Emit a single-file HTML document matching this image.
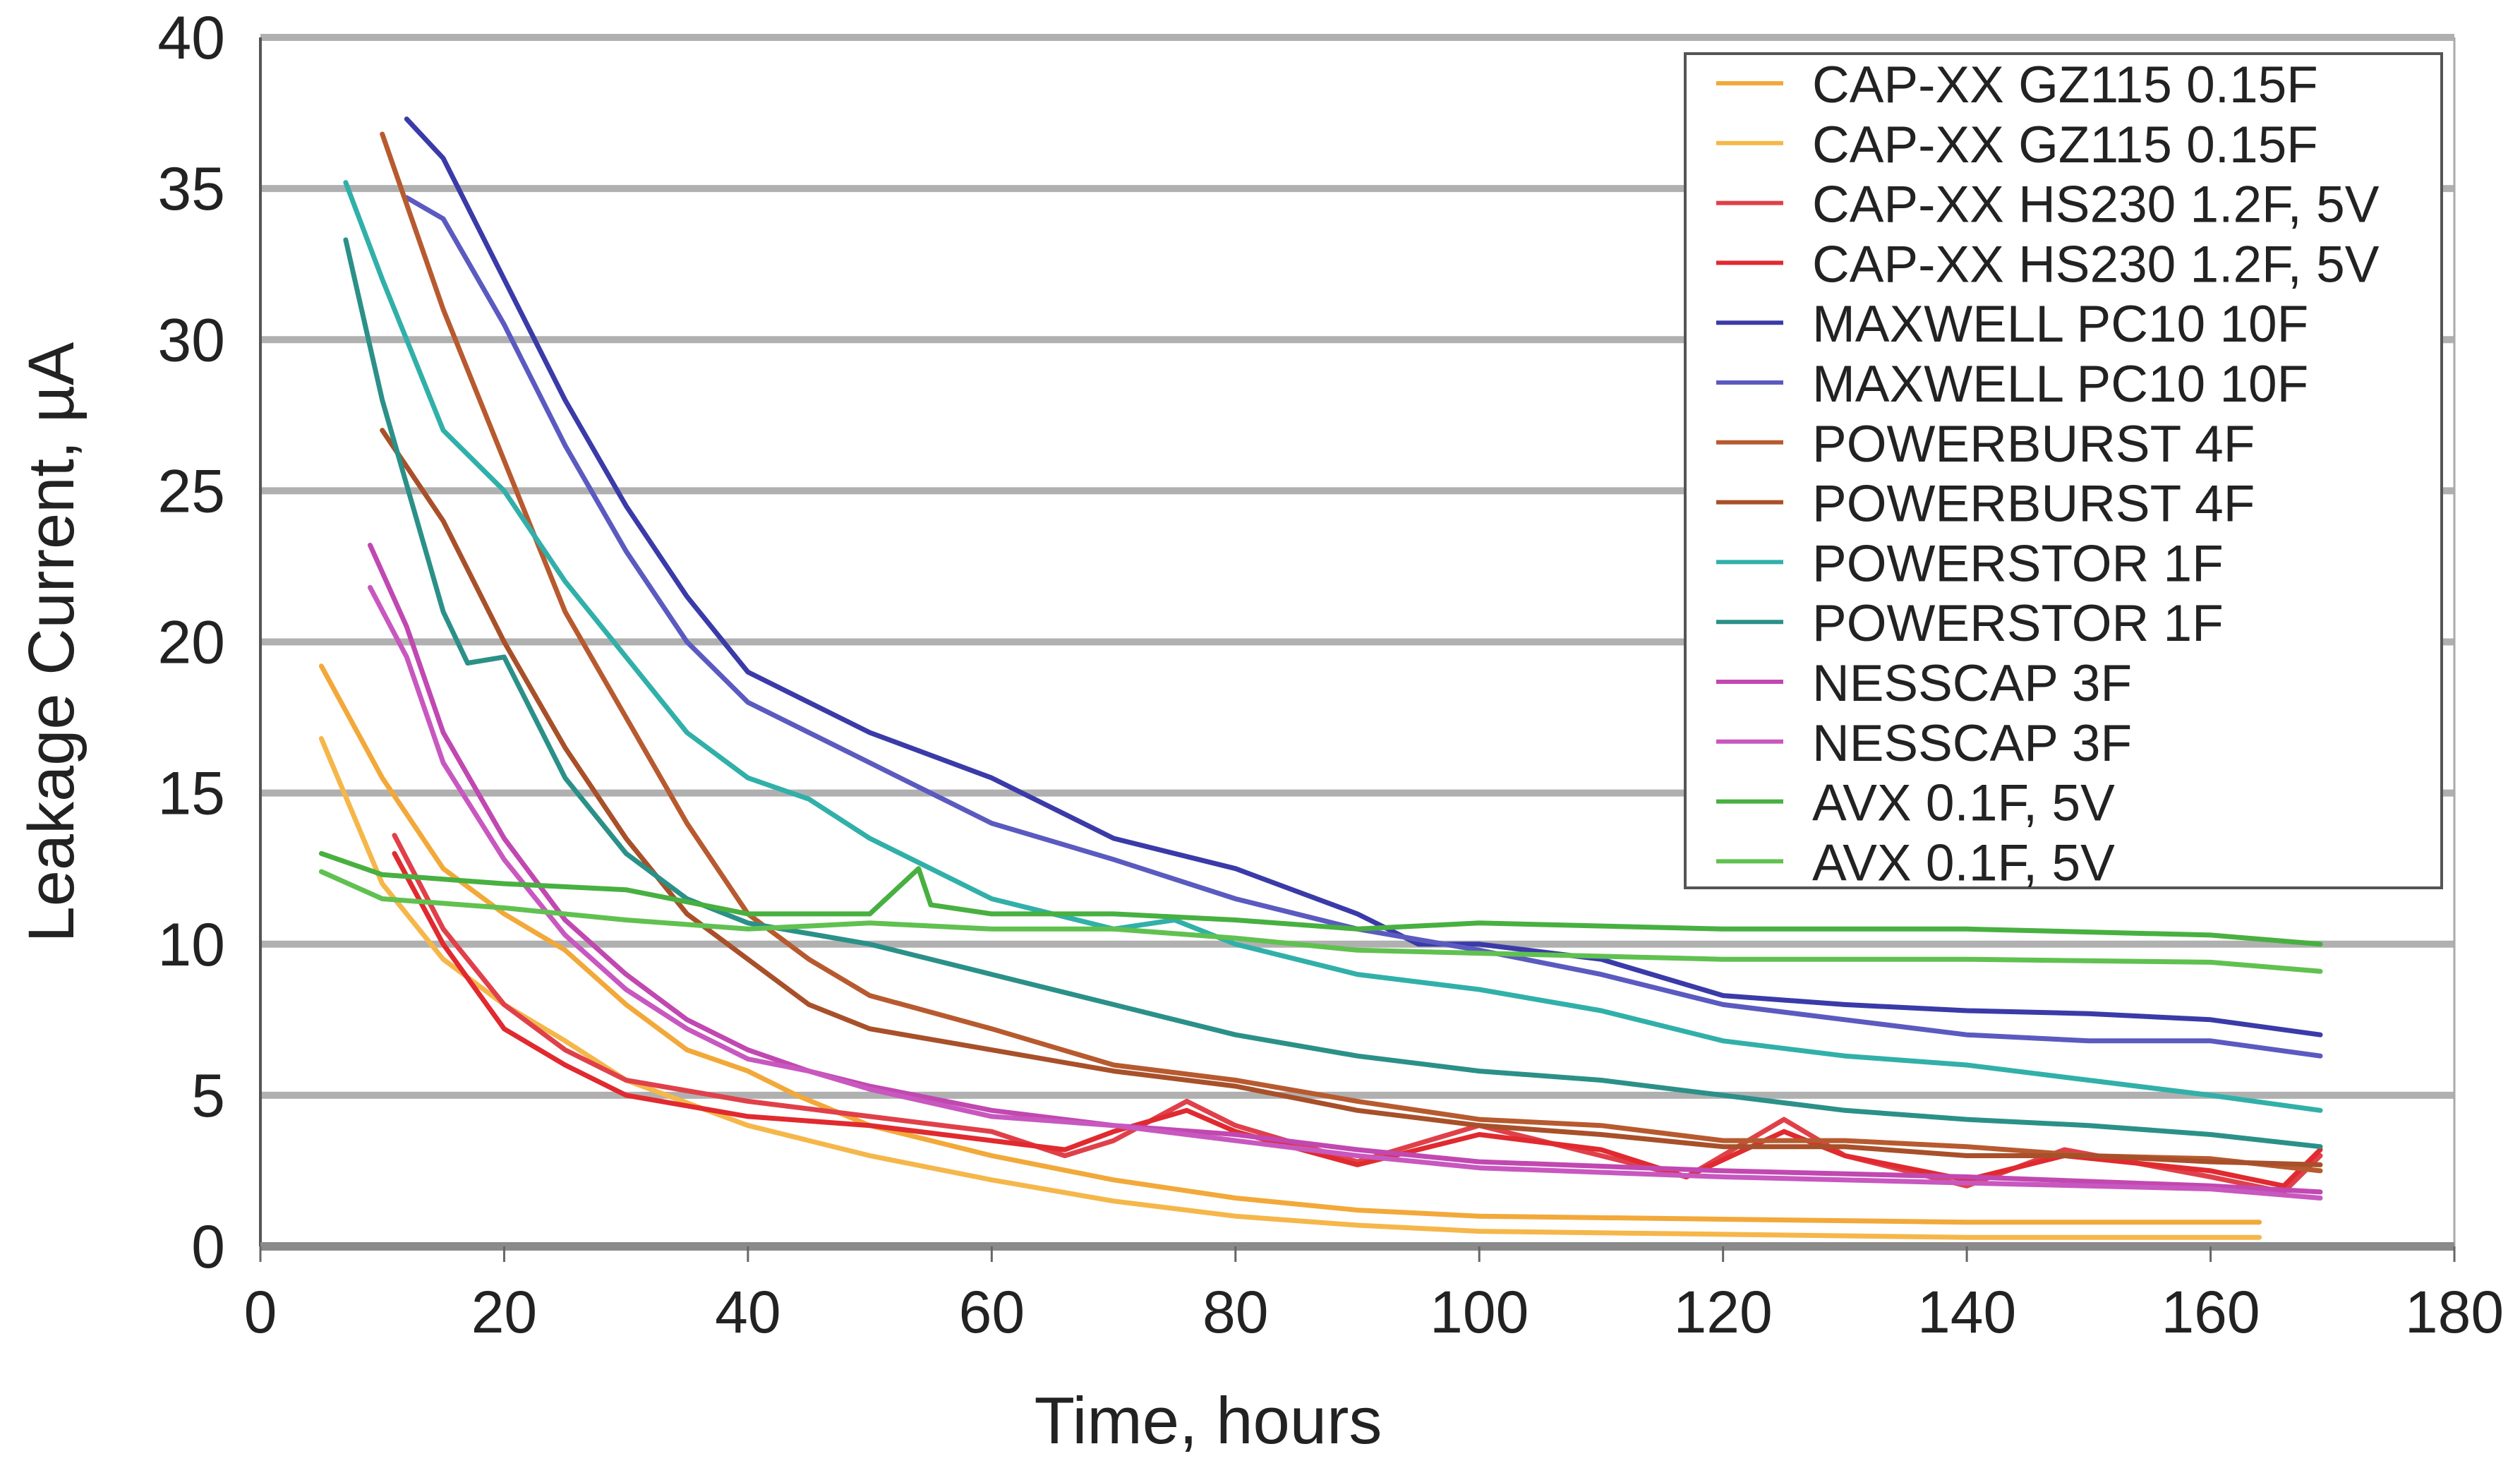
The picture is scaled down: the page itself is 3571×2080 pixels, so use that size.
<!DOCTYPE html>
<html><head><meta charset="utf-8"><style>
html,body{margin:0;padding:0;background:#fff;}
svg{display:block;}
text{font-family:"Liberation Sans",Arial,sans-serif;fill:#222;}
</style></head><body>
<svg id="chart" width="3571" height="2080" viewBox="0 0 3571 2080" xmlns="http://www.w3.org/2000/svg">
<g id="grid"></g>
<g id="series"></g>
<g id="axes"></g>
<g id="legend"></g>
<text x="1712" y="2045" font-size="94" text-anchor="middle">Time, hours</text>
<text transform="translate(104,910) rotate(-90)" font-size="92" text-anchor="middle">Leakage Current, µA</text>
</svg>
<script>
const xTicks = [0,20,40,60,80,100,120,140,160,180];
const yTicks = [0,5,10,15,20,25,30,35,40];
const seriesNames = ["CAP-XX GZ115 0.15F","CAP-XX GZ115 0.15F","CAP-XX HS230 1.2F, 5V","CAP-XX HS230 1.2F, 5V","MAXWELL PC10 10F","MAXWELL PC10 10F","POWERBURST 4F","POWERBURST 4F","POWERSTOR 1F","POWERSTOR 1F","NESSCAP 3F","NESSCAP 3F","AVX 0.1F, 5V","AVX 0.1F, 5V"];
const seriesColors = ["#f2a93a","#f5b64a","#e0404a","#e02a30","#3a3aa8","#5a5ac0","#b85a30","#a8502a","#30b0a8","#2a9088","#c048b0","#c858c0","#48b040","#60c050"];
const gzA_x=[5,10,15,20,25,30,35,40,44,50,60,70,80,90,100,120,140,160,164];
const gzA_y=[19.2,15.5,12.5,11,9.8,8,6.5,5.8,5,4,3,2.2,1.6,1.2,1.0,0.9,0.8,0.8,0.8];
const gzB_x=[5,10,15,20,25,30,40,50,60,70,80,90,100,120,140,164];
const gzB_y=[16.8,12,9.5,8,6.8,5.5,4,3,2.2,1.5,1.0,0.7,0.5,0.4,0.3,0.3];
const hsA_x=[11,15,20,25,30,40,50,60,66,70,76,80,90,100,110,117,125,130,140,148,160,166,169];
const hsA_y=[13.6,10.5,8,6.5,5.5,4.8,4.3,3.8,3,3.5,4.8,4,2.8,4,3,2.3,4.2,3,2,3.2,2.3,1.8,3];
const hsB_x=[11,15,20,25,30,40,50,60,66,70,76,80,90,100,110,117,125,130,140,148,160,166,169];
const hsB_y=[13,10,7.2,6,5,4.3,4,3.5,3.2,3.8,4.5,3.8,2.7,3.7,3.2,2.3,3.8,3,2.2,3,2.5,2,3.2];
const mxA_x=[12,15,20,25,30,35,40,50,60,70,80,90,95,100,110,120,130,140,150,160,169];
const mxA_y=[37.3,36,32,28,24.5,21.5,19,17,15.5,13.5,12.5,11,10,10,9.5,8.3,8,7.8,7.7,7.5,7];
const mxB_x=[12,15,20,25,30,35,40,50,60,70,80,90,100,110,120,130,140,150,160,169];
const mxB_y=[34.7,34,30.5,26.5,23,20,18,16,14,12.8,11.5,10.5,9.8,9,8,7.5,7,6.8,6.8,6.3];
const pbA_x=[10,15,20,25,30,35,40,45,50,60,70,80,90,100,110,120,130,140,150,160,169];
const pbA_y=[36.8,31,26,21,17.5,14,11,9.5,8.3,7.2,6,5.5,4.8,4.2,4,3.5,3.5,3.3,3,2.9,2.5];
const pbB_x=[10,15,20,25,30,35,40,45,50,60,70,80,90,100,110,120,130,140,150,160,169];
const pbB_y=[27,24,20,16.5,13.5,11,9.5,8,7.2,6.5,5.8,5.3,4.5,4,3.7,3.3,3.3,3,3,2.8,2.7];
const psA_x=[7,10,15,20,25,30,35,40,45,50,60,70,75,80,90,100,110,120,130,140,150,160,169];
const psA_y=[35.2,32,27,25,22,19.5,17,15.5,14.8,13.5,11.5,10.5,10.8,10,9,8.5,7.8,6.8,6.3,6,5.5,5,4.5];
const psB_x=[7,10,15,17,20,25,30,35,40,50,60,70,80,90,100,110,120,130,140,150,160,169];
const psB_y=[33.3,28,21,19.3,19.5,15.5,13,11.5,10.7,10,9,8,7,6.3,5.8,5.5,5,4.5,4.2,4,3.7,3.3];
const nsA_x=[9,12,15,20,25,30,35,40,45,50,60,70,80,90,100,120,140,160,169];
const nsA_y=[23.2,20.5,17,13.5,10.8,9,7.5,6.5,5.8,5.3,4.5,4,3.7,3.2,2.8,2.5,2.3,2,1.8];
const nsB_x=[9,12,15,20,25,30,35,40,45,50,60,70,80,90,100,120,140,160,169];
const nsB_y=[21.8,19.5,16,12.8,10.3,8.5,7.2,6.2,5.8,5.2,4.3,4,3.5,3,2.6,2.3,2.1,1.9,1.6];
const avA_x=[5,10,20,30,40,50,54,55,60,70,80,90,100,120,140,160,169];
const avA_y=[13,12.3,12,11.8,11,11,12.5,11.3,11,11,10.8,10.5,10.7,10.5,10.5,10.3,10];
const avB_x=[5,10,20,30,40,50,60,70,80,90,100,120,140,160,169];
const avB_y=[12.4,11.5,11.2,10.8,10.5,10.7,10.5,10.5,10.2,9.8,9.7,9.5,9.5,9.4,9.1];
const seriesX=[gzA_x,gzB_x,hsA_x,hsB_x,mxA_x,mxB_x,pbA_x,pbB_x,psA_x,psB_x,nsA_x,nsB_x,avA_x,avB_x];
const seriesY=[gzA_y,gzB_y,hsA_y,hsB_y,mxA_y,mxB_y,pbA_y,pbB_y,psA_y,psB_y,nsA_y,nsB_y,avA_y,avB_y];

const NS="http://www.w3.org/2000/svg";
const X0=369,X1=3478,Y0=1766,Y1=53;
const sx=v=>X0+(v-0)/(180-0)*(X1-X0);
const sy=v=>Y0-(v-0)/(40-0)*(Y0-Y1);
function mk(tag,attrs,parent){const e=document.createElementNS(NS,tag);for(const k in attrs)e.setAttribute(k,attrs[k]);parent.appendChild(e);return e;}
const grid=document.getElementById('grid'),axes=document.getElementById('axes'),ser=document.getElementById('series'),leg=document.getElementById('legend');
yTicks.forEach(t=>{
  if(t>0){const g=mk('line',{x1:X0,x2:X1,y1:sy(t),y2:sy(t),stroke:'#b0b0b0','stroke-width':10},grid);
  
  }
  const lb=mk('text',{x:X0-50,y:sy(t)+30,'font-size':86,'text-anchor':'end'},axes);lb.textContent=t;
  
  
});
const ya=mk('line',{x1:X0,x2:X0,y1:Y1,y2:Y0,stroke:'#555','stroke-width':4},axes);


const ra=mk('line',{x1:X1,x2:X1,y1:Y1,y2:Y0,stroke:'#aaa','stroke-width':3},axes);


const xa=mk('line',{x1:X0,x2:X1,y1:Y0,y2:Y0,stroke:'#8a8a8a','stroke-width':12},axes);


xTicks.forEach(t=>{
  const tk=mk('line',{x1:sx(t),x2:sx(t),y1:Y0,y2:Y0+22,stroke:'#666','stroke-width':3},axes);
  
  
  const lb=mk('text',{x:sx(t),y:Y0+122,'font-size':84,'text-anchor':'middle'},axes);lb.textContent=t;
  
  
});
seriesX.forEach((xs,i)=>{
  const pts=xs.map((x,j)=>sx(x).toFixed(1)+','+sy(seriesY[i][j]).toFixed(1)).join(' ');
  const p=mk('polyline',{points:pts,fill:'none',stroke:seriesColors[i],'stroke-width':7,'stroke-linejoin':'round','stroke-linecap':'round'},ser);
  
  
});
const box=mk('rect',{x:2388,y:76,width:1072,height:1182,fill:'#fff',stroke:'#555','stroke-width':4},leg);


seriesNames.forEach((n,i)=>{
  const y=118+i*84.8;
  const g=mk('g',{},leg);
  
  
  mk('line',{x1:2432,x2:2527,y1:y,y2:y,stroke:seriesColors[i],'stroke-width':6},g);
  const t=mk('text',{x:2568,y:y+27,'font-size':73},g);t.textContent=n;
});
</script>
</body></html>
